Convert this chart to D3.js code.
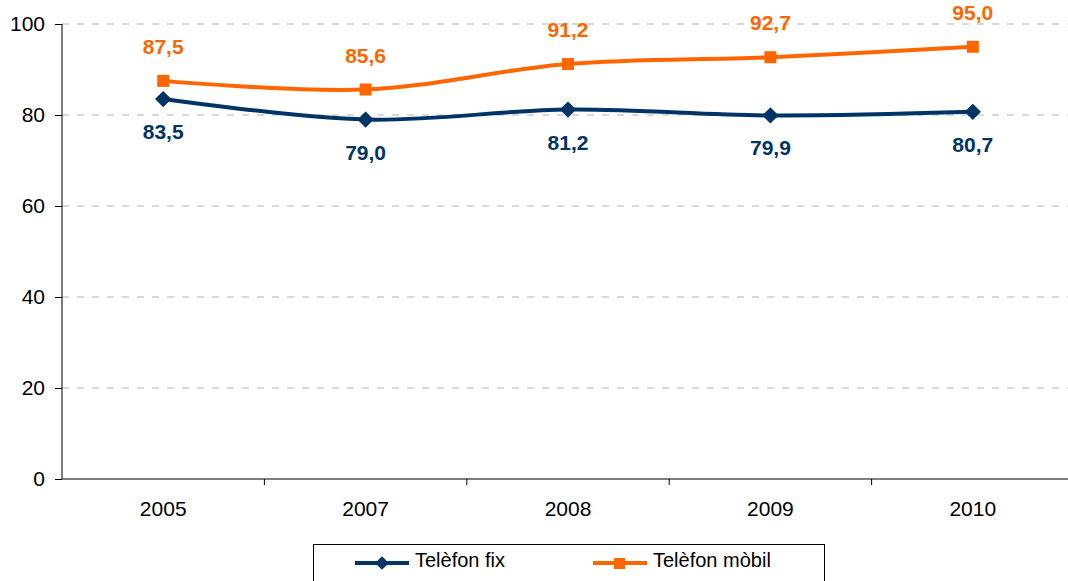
<!DOCTYPE html>
<html>
<head>
<meta charset="UTF-8">
<script src="https://d3js.org/d3.v7.min.js"></script>
<style>
  body { margin: 0; background: #fff; }
  svg { display: block; font-family: "Liberation Sans", Arial, sans-serif; }
</style>
</head>
<body>
<div id="chart"></div>
<script>
// data
const years = ["2005", "2007", "2008", "2009", "2010"];
const fix = [83.5, 79.0, 81.2, 79.9, 80.7];
const mobil = [87.5, 85.6, 91.2, 92.7, 95.0];
const yTicks = [0, 20, 40, 60, 80, 100];
const seriesNames = ["Telèfon fix", "Telèfon mòbil"];

const width = 1068, height = 581;
const blue = "#003366", orange = "#ff6600";

const svg = d3.select("#chart").append("svg")
  .attr("width", width)
  .attr("height", height);

const x = d3.scaleBand().domain(years).range([62, 62 + 5 * 202.4]);
const y = d3.scaleLinear().domain([0, 100]).range([479, 24]);

// grid lines
svg.append("g")
  .selectAll("line")
  .data(yTicks.filter(d => d > 0))
  .enter().append("line")
    .attr("x1", 62).attr("x2", width)
    .attr("y1", d => y(d)).attr("y2", d => y(d))
    .attr("stroke", "#b3b3b3")
    .attr("stroke-width", 1)
    .attr("stroke-dasharray", "7,8");

// y axis
const yAxis = svg.append("g")
  .attr("transform", "translate(62,0)")
  .call(d3.axisLeft(y).tickValues(yTicks).tickSize(7).tickPadding(10));
yAxis.select(".domain").attr("stroke", "#000").attr("d", "M0," + y(100) + "V" + y(0));
yAxis.selectAll("text").attr("font-size", 21).attr("fill", "#000")
  .style("font-family", "Liberation Sans, Arial, sans-serif");

// x axis
const xAxis = svg.append("g")
  .attr("transform", "translate(0," + y(0) + ")")
  .call(d3.axisBottom(x).tickSize(0).tickPadding(22));
xAxis.select(".domain").remove();
xAxis.append("line")
  .attr("x1", 62).attr("x2", width)
  .attr("stroke", "#000");
xAxis.selectAll(".tick text").attr("font-size", 21).attr("fill", "#000")
  .style("font-family", "Liberation Sans, Arial, sans-serif");
xAxis.selectAll(".sep")
  .data(years.slice(1))
  .enter().append("line")
    .attr("x1", d => x(d)).attr("x2", d => x(d))
    .attr("y1", 0).attr("y2", 6)
    .attr("stroke", "#000");

const cx = d => x(d) + x.bandwidth() / 2;
const line = d3.line()
  .x((d, i) => cx(years[i]))
  .y(d => y(d))
  .curve(d3.curveCatmullRom.alpha(0));

// fixed phone
svg.append("path")
  .datum(fix)
  .attr("fill", "none")
  .attr("stroke", blue)
  .attr("stroke-width", 4)
  .attr("d", line);
svg.append("g").selectAll("path")
  .data(fix)
  .enter().append("path")
    .attr("d", d3.symbol(d3.symbolDiamond2, 170)())
    .attr("transform", (d, i) => "translate(" + cx(years[i]) + "," + y(d) + ")")
    .attr("fill", blue);

// mobile phone
svg.append("path")
  .datum(mobil)
  .attr("fill", "none")
  .attr("stroke", orange)
  .attr("stroke-width", 4)
  .attr("d", line);
svg.append("g").selectAll("rect")
  .data(mobil)
  .enter().append("rect")
    .attr("x", (d, i) => cx(years[i]) - 6)
    .attr("y", d => y(d) - 6)
    .attr("width", 12).attr("height", 12)
    .attr("fill", orange);

const fmt = d => d.toFixed(1).replace(".", ",");

// labels
svg.append("g").selectAll("text")
  .data(fix)
  .enter().append("text")
    .attr("x", (d, i) => cx(years[i]))
    .attr("y", d => y(d) + 40)
    .attr("text-anchor", "middle")
    .attr("font-size", 21)
    .attr("font-weight", "bold")
    .attr("fill", blue)
    .text(fmt);
svg.append("g").selectAll("text")
  .data(mobil)
  .enter().append("text")
    .attr("x", (d, i) => cx(years[i]))
    .attr("y", d => y(d) - 27)
    .attr("text-anchor", "middle")
    .attr("font-size", 21)
    .attr("font-weight", "bold")
    .attr("fill", orange)
    .text(fmt);

// legend
const legend = svg.append("g");
legend.append("rect")
  .attr("x", 313.5).attr("y", 544.5)
  .attr("width", 511).attr("height", 40)
  .attr("fill", "#fff")
  .attr("stroke", "#000");

const legX = [355, 593];
seriesNames.forEach((name, i) => {
  const g = legend.append("g").attr("transform", "translate(" + legX[i] + ",563)");
  g.append("line")
    .attr("x1", 0).attr("x2", 54)
    .attr("stroke", i === 0 ? blue : orange)
    .attr("stroke-width", 4);
  if (i === 0) {
    g.append("path")
      .attr("d", d3.symbol(d3.symbolDiamond2, 120)())
      .attr("transform", "translate(27,0)")
      .attr("fill", blue);
  } else {
    g.append("rect")
      .attr("x", 21).attr("y", -5).attr("width", 11).attr("height", 11)
      .attr("fill", orange);
  }
  g.append("text")
    .attr("x", 60).attr("y", 4)
    .attr("font-size", 20)
    .attr("fill", "#000")
    .text(name);
});
</script>
</body>
</html>
